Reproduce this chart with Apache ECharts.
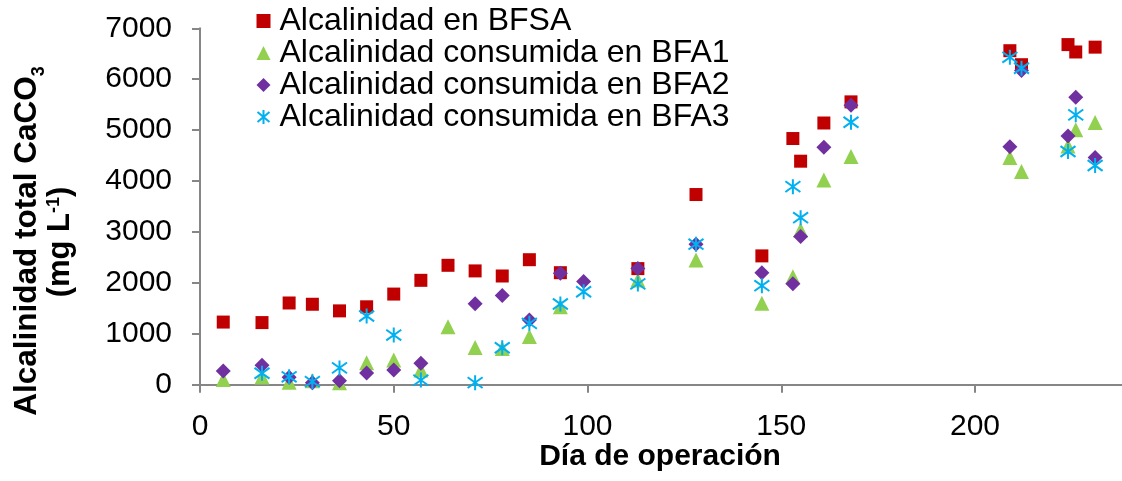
<!DOCTYPE html>
<html>
<head>
<meta charset="utf-8">
<script src="https://cdn.jsdelivr.net/npm/echarts@6/dist/echarts.min.js"></script>
<style>html,body{margin:0;padding:0;background:#fff}#c{width:1122px;height:481px}</style>
</head>
<body>
<div id="c"></div>
<script>
const seriesNames = ['Alcalinidad en BFSA', 'Alcalinidad consumida en BFA1', 'Alcalinidad consumida en BFA2', 'Alcalinidad consumida en BFA3'];
const daysBFSA = [6,16,23,29,36,43,50,57,64,71,78,85,93,113,128,145,153,155,161,168,209,212,224,226,231];
const valsBFSA = [1230,1220,1605,1580,1450,1530,1780,2050,2345,2235,2135,2455,2200,2280,3735,2530,4835,4390,5140,5555,6560,6285,6680,6535,6630];
const daysBFA1 = [6,16,23,29,36,43,50,57,64,71,78,85,93,113,128,145,153,155,161,168,209,212,224,226,231];
const valsBFA1 = [100,150,50,80,40,430,485,290,1140,730,710,945,1530,2055,2450,1600,2120,3040,4020,4480,4460,4185,4690,5005,5150];
const daysBFA2 = [6,16,23,29,36,43,50,57,71,78,85,93,99,113,128,145,153,155,161,168,209,212,224,226,231];
const valsBFA2 = [270,380,145,40,80,230,290,420,1590,1750,1270,2190,2025,2280,2760,2200,1985,2910,4665,5490,4675,6170,4885,5645,4460];
const daysBFA3 = [16,23,29,36,43,50,57,71,78,85,93,99,113,128,145,153,155,168,209,212,224,226,231];
const valsBFA3 = [225,155,60,330,1350,975,90,40,725,1205,1585,1825,1980,2760,1945,3890,3280,5155,6430,6215,4580,5300,4305];
const xTicks = [0,50,100,150,200,250];
const yTicks = [0,1000,2000,3000,4000,5000,6000,7000];
const xTitle = 'Día de operación';
const yTitle1 = 'Alcalinidad total CaCO';
const yTitleSub = '3';
const yTitle2a = '(mg L';
const yTitleSup = '-1';
const yTitle2b = ')';

const pair = (d, v) => d.map((x, i) => [x, v[i]]);
const FONT = 'Liberation Sans';
const AX = '#868686';
const starPath = 'path://M7,0 L7,14 M1,2 L13,12 M1,12 L13,2';

const chart = echarts.init(document.getElementById('c'), null, {renderer: 'canvas'});
chart.setOption({
  animation: false,
  backgroundColor: '#fff',
  grid: {left: 200, top: 28.3, height: 356.4, width: 968.75, outerBoundsMode: 'none', containLabel: false},
  legend: {
    orient: 'vertical', left: 255, top: 5, padding: 0, itemGap: 0, itemWidth: 14, itemHeight: 14,
    textStyle: {fontFamily: FONT, fontSize: 32, color: '#000', lineHeight: 31.7, padding: [0,0,0,4]},
    data: seriesNames
  },
  xAxis: {
    type: 'value', min: xTicks[0], max: xTicks[xTicks.length-1], interval: 50,
    axisLine: {show: true, lineStyle: {color: AX, width: 2}},
    axisTick: {show: true, length: 8, lineStyle: {color: AX, width: 2}},
    splitLine: {show: false},
    axisLabel: {fontFamily: FONT, fontSize: 30, color: '#000', margin: 27, formatter: v => String(v)}
  },
  yAxis: {
    type: 'value', min: yTicks[0], max: yTicks[yTicks.length-1], interval: 1000,
    axisLine: {show: true, lineStyle: {color: AX, width: 2}},
    axisTick: {show: true, length: 8, lineStyle: {color: AX, width: 2}},
    splitLine: {show: false},
    axisLabel: {fontFamily: FONT, fontSize: 30, color: '#000', margin: 28, formatter: v => String(v)}
  },
  graphic: [
    {type: 'text', x: 660, y: 457, style: {text: xTitle, fontFamily: FONT, fontSize: 30, fontWeight: 'bold', fill: '#000', align: 'center', verticalAlign: 'middle'}},
    {type: 'text', x: 27, y: 241, rotation: Math.PI/2, style: {
      text: '{a|' + yTitle1 + '}{s|' + yTitleSub + '}', align: 'center', verticalAlign: 'middle',
      rich: {
        a: {fontFamily: FONT, fontSize: 31.5, fontWeight: 'bold', fill: '#000', color: '#000', lineHeight: 32, verticalAlign: 'top'},
        s: {fontFamily: FONT, fontSize: 18, fontWeight: 'bold', fill: '#000', color: '#000', lineHeight: 18, padding: [19,0,0,0], verticalAlign: 'top'}
      }}},
    {type: 'text', x: 61, y: 242, rotation: Math.PI/2, style: {
      text: '{a|' + yTitle2a + '}{p|' + yTitleSup + '}{a|' + yTitle2b + '}', align: 'center', verticalAlign: 'middle',
      rich: {
        a: {fontFamily: FONT, fontSize: 31, fontWeight: 'bold', fill: '#000', color: '#000', lineHeight: 32, verticalAlign: 'top'},
        p: {fontFamily: FONT, fontSize: 18, fontWeight: 'bold', fill: '#000', color: '#000', lineHeight: 18, verticalAlign: 'top'}
      }}}
  ],
  series: [
    {name: seriesNames[0], type: 'scatter', symbol: 'rect', symbolSize: 13, itemStyle: {color: '#C00000', opacity: 1}, data: pair(daysBFSA, valsBFSA)},
    {name: seriesNames[1], type: 'scatter', symbol: 'triangle', symbolSize: [15, 15], itemStyle: {color: '#92D050', opacity: 1}, data: pair(daysBFA1, valsBFA1)},
    {name: seriesNames[2], type: 'scatter', symbol: 'diamond', symbolSize: 15, itemStyle: {color: '#7030A0', opacity: 1}, data: pair(daysBFA2, valsBFA2)},
    {name: seriesNames[3], type: 'scatter', symbol: starPath, symbolSize: 15, itemStyle: {color: 'none', borderColor: '#00B0F0', borderWidth: 2, opacity: 1}, data: pair(daysBFA3, valsBFA3)}
  ]
});
</script>
</body>
</html>
